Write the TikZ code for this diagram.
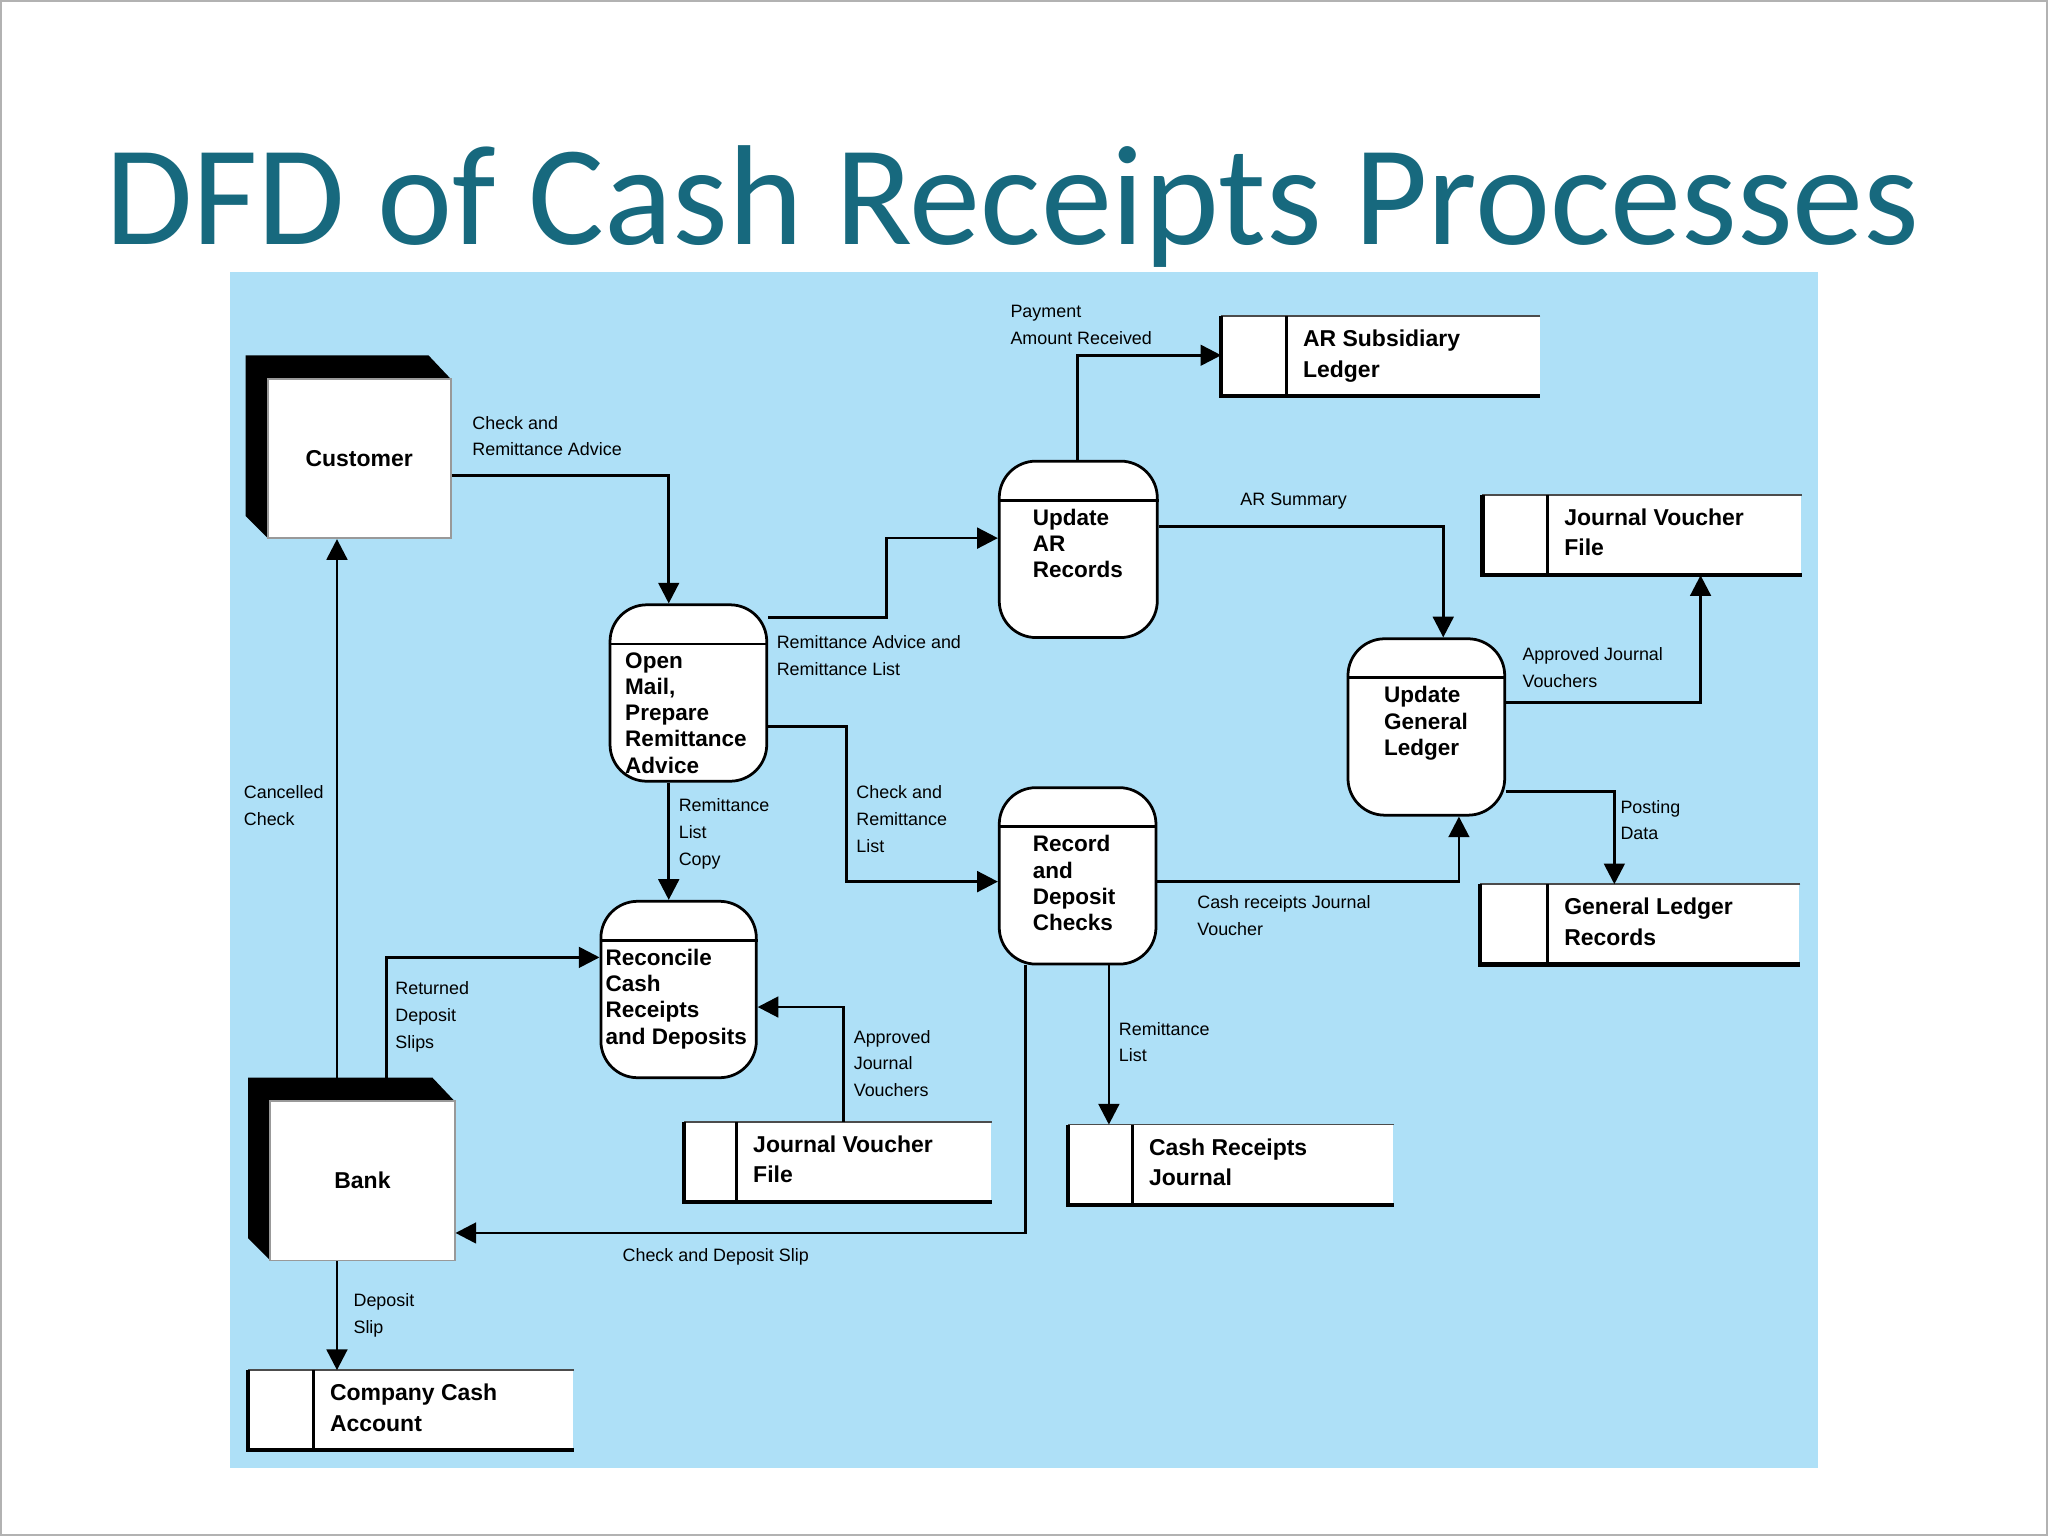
\documentclass[tikz,border=0pt]{standalone}
\usepackage{fontspec}
\setmainfont{Liberation Sans}
\newfontfamily\titlefont{Carlito}
\usetikzlibrary{arrows.meta,calc}
\definecolor{panel}{HTML}{AEE0F7}
\definecolor{titlecol}{HTML}{17697E}
\begin{document}
\begin{tikzpicture}[x=0.01cm,y=-0.01cm,
  proc/.style={draw,fill=white,rounded corners=8pt,line width=0.6pt},
  ptext/.style={anchor=north west,inner sep=0pt,align=left,font=\fontsize{4.9}{5.7}\selectfont\bfseries},
  store/.style={inner sep=0pt},
  stext/.style={anchor=north west,inner sep=0pt,align=left,font=\fontsize{5}{6.6}\selectfont\bfseries},
  ent/.style={draw=black!40,fill=white,inner sep=0pt,font=\fontsize{5}{6}\selectfont\bfseries},
  lbl/.style={anchor=north west,inner sep=0pt,align=left,font=\fontsize{3.9}{5.8}\selectfont},
  flow/.style={line width=0.6pt,-{Triangle[length=4.5pt,width=4.5pt]}}]
\useasboundingbox (0,0) rectangle (1568,1176);
\draw[black!30,fill=white] (0.5,0.5) rectangle (1567.5,1175.5);
\fill[panel] (176,208) rectangle (1392,1124);
\node[titlecol,font=\titlefont\fontsize{31}{36}\selectfont] (title) at (775,158) {DFD of Cash Receipts Processes};

% external entities
\fill (188,272) -- (328,272) -- (345,290) -- (205,290) -- (205,412) -- (188,395) -- cycle;
\node[ent,minimum width=1.4cm,minimum height=1.22cm] (cust) at (275,351) {Customer};
\fill (190,825) -- (331,825) -- (348,843) -- (207,843) -- (207,965) -- (190,948) -- cycle;
\node[ent,minimum width=1.41cm,minimum height=1.22cm] (bank) at (277.5,904) {Bank};

% processes
\foreach \n/\x/\y/\w/\o/\t in {om/466/462/120/12/{Open\\Mail,\\Prepare\\Remittance\\Advice},
  ar/764/352/121/26/{Update\\AR\\Records},
  rd/764/602/120/26/{Record\\and\\Deposit\\Checks},
  gl/1031/488/120/28/{Update\\General\\Ledger},
  rc/459/689/119/4/{Reconcile\\Cash\\Receipts\\and Deposits}}{
  \node[proc,minimum width=\w*0.01cm,minimum height=1.35cm,anchor=north west] (\n) at (\x,\y) {};
  \draw[line width=0.6pt] ($(\n.north west)+(0,31)$) -- ($(\n.north east)+(0,31)$);
  \node[ptext] (\n t) at ($(\n.north west)+(\o,37)$) {\t};
}

% data stores
\foreach \n/\x/\y/\w/\d/\t in {ars/935/242/243/50/{AR Subsidiary\\Ledger},
  jv1/1135/379/243/50/{Journal Voucher\\File},
  glr/1133/677/244/52/{General Ledger\\Records},
  jv2/524/859/234/40/{Journal Voucher\\File},
  crj/818/861/248/49/{Cash Receipts\\Journal},
  cca/190/1049/248/50/{Company Cash\\Account}}{
  \node[store,fill=white,minimum width=\w*0.01cm,minimum height=0.6cm,anchor=north west] (\n) at (\x,\y) {};
  \draw[line width=0.4pt,black!70] (\n.north east) -- (\n.north west);
  \draw[line width=0.9pt] (\n.north west) -- (\n.south west) -- (\n.south east);
  \draw[line width=0.6pt] ($(\n.north west)+(\d,0)$) -- ($(\n.south west)+(\d,0)$);
  \node[stext] (\n t) at ($(\n.north west)+(\d+12,10)$) {\t};
}

% flows
\draw[flow] (cust.east |- 0,364) -| (om.north -| 512,0);
\node[lbl] (l1) at (361,318) {Check and\\Remittance Advice};
\draw[flow] (om.east |- 0,473) -- (679,473) |- (ar.west |- 0,412);
\node[lbl] (l2) at (594,486) {Remittance Advice and\\Remittance List};
\draw[flow] (ar.north -| 825,0) |- (ars.west |- 0,272);
\node[lbl] (l3) at (773,233) {Payment\\Amount Received};
\draw[flow] (ar.east |- 0,403) -| (gl.north -| 1105,0);
\node[lbl] (l4) at (949,377) {AR Summary};
\draw[flow] (gl.east |- 0,538) -| (jv1.south -| 1302,0);
\node[lbl] (l5) at (1165,495) {Approved Journal\\Vouchers};
\draw[flow] (gl.east |- 0,606) -| (glr.north -| 1236,0);
\node[lbl] (l6) at (1240,612) {Posting\\Data};
\draw[flow] (rd.east |- 0,675) -| (gl.south -| 1117,0);
\node[lbl] (l7) at (916,685) {Cash receipts Journal\\Voucher};
\draw[flow] (om.east |- 0,556) -- (648,556) |- (rd.west |- 0,675);
\node[lbl] (l8) at (655,601) {Check and\\Remittance\\List};
\draw[flow] (om.south -| 512,0) -- (rc.north -| 512,0);
\node[lbl] (l9) at (519,611) {Remittance\\List\\Copy};
\draw[flow] (bank.north -| 296,0) |- (rc.west |- 0,733);
\node[lbl] (l10) at (302,751) {Returned\\Deposit\\Slips};
\draw[flow] (jv2.north -| 646,0) |- (rc.east |- 0,771);
\node[lbl] (l11) at (653,788) {Approved\\Journal\\Vouchers};
\draw[flow] (rd.south -| 849,0) -- (crj.north -| 849,0);
\node[lbl] (l12) at (856,782) {Remittance\\List};
\draw[flow] (rd.south -| 785,0) |- (bank.east |- 0,944);
\node[lbl] (l13) at (476,955) {Check and Deposit Slip};
\draw[flow] (bank.north -| 258,0) -- (cust.south -| 258,0);
\node[lbl] (l14) at (186,601) {Cancelled\\Check};
\draw[flow] (bank.south -| 258,0) -- (cca.north -| 258,0);
\node[lbl] (l15) at (270,990) {Deposit\\Slip};
\end{tikzpicture}
\end{document}
